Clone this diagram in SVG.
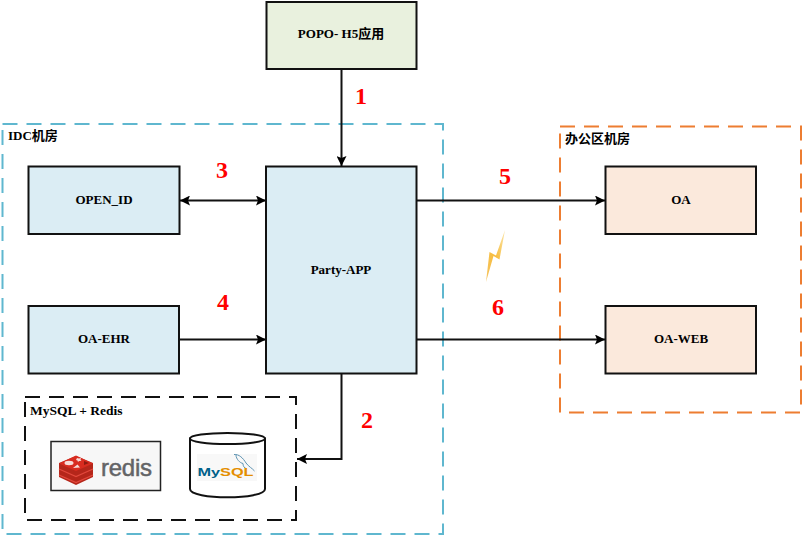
<svg xmlns="http://www.w3.org/2000/svg" width="803" height="536" viewBox="0 0 803 536">
<style>
text{font-family:"Liberation Serif","Noto Sans CJK SC",serif;font-weight:bold;font-size:13px;fill:#000}
.lb{text-anchor:middle}
.num{font-size:24px;fill:#f00;text-anchor:middle}
.box{stroke:#111;stroke-width:2}
.blue{fill:#dbedf4}.peach{fill:#fbe9dc}.green{fill:#e9f1de}
.con{fill:none;stroke:#111;stroke-width:2}
</style>
<defs>
<marker id="a" markerUnits="userSpaceOnUse" markerWidth="11" markerHeight="10" refX="10" refY="5" orient="auto-start-reverse"><path d="M0 0L10 5L0 10L2 5Z" fill="#000"/></marker>
<linearGradient id="bolt" x1="1" y1="0" x2="0" y2="1"><stop offset="0" stop-color="#fbe6ac"/><stop offset=".5" stop-color="#f7bd3e"/><stop offset="1" stop-color="#f5c462"/></linearGradient>
</defs>
<rect width="803" height="536" fill="#fff"/>
<g id="zone-idc"><rect x="2.500" y="124" width="440.500" height="410" fill="none" stroke="#5fb7cf" stroke-width="2" stroke-dasharray="15 9"/><text x="8" y="140">IDC机房</text></g>
<g id="zone-office"><rect x="560" y="126.500" width="241" height="286" fill="none" stroke="#ed7d31" stroke-width="2" stroke-dasharray="15 9"/><text x="565" y="143">办公区机房</text></g>
<g id="zone-db"><rect x="25" y="397" width="271" height="123" fill="none" stroke="#111" stroke-width="2" stroke-dasharray="15 9"/><text x="30" y="415" style="font-size:13.500px">MySQL + Redis</text></g>
<g id="connectors">
<path class="con" d="M341.500 69V166" marker-end="url(#a)"/>
<path class="con" d="M180 200.500H266" marker-start="url(#a)" marker-end="url(#a)"/>
<path class="con" d="M179 339.500H266" marker-end="url(#a)"/>
<path class="con" d="M341.500 374V459H297" marker-end="url(#a)"/>
<path class="con" d="M417 200.500H605" marker-end="url(#a)"/>
<path class="con" d="M417 339.500H605" marker-end="url(#a)"/>
</g>
<g id="node-popo"><rect class="box green" x="266.500" y="2" width="150" height="67"/><text class="lb" x="341" y="38">POPO- H5应用</text></g>
<g id="node-party"><rect class="box blue" x="266" y="166.500" width="150.500" height="207"/><text class="lb" x="341" y="274">Party-APP</text></g>
<g id="node-open"><rect class="box blue" x="28.500" y="166.500" width="151" height="67.500"/><text class="lb" x="104" y="204">OPEN_ID</text></g>
<g id="node-ehr"><rect class="box blue" x="28.500" y="306" width="150.500" height="67.500"/><text class="lb" x="104" y="343">OA-EHR</text></g>
<g id="node-oa"><rect class="box peach" x="605.500" y="166.500" width="150.500" height="67.500"/><text class="lb" x="681" y="204">OA</text></g>
<g id="node-oaweb"><rect class="box peach" x="605.500" y="306" width="150.500" height="67.500"/><text class="lb" x="681" y="343">OA-WEB</text></g>
<g id="node-redis">
<rect x="51" y="441.500" width="109.500" height="49" fill="#f7f7f7" stroke="#222" stroke-width="1.500"/>
<path d="M59 463V477L76 485L93 477V463L76 456Z" fill="#b5261a"/>
<path d="M59 463.500L76 455.500L93 463.500L76 471Z" fill="#d82c20"/>
<path d="M59 469L76 476.500L93 469M59 475L76 482.500L93 475" fill="none" stroke="#e2483c" stroke-width="1.200"/>
<ellipse cx="69" cy="463" rx="4.500" ry="2.200" fill="#f6dcd8"/><path d="M77 458l2 .5l2-.5l-.5 2l1 1l-2.500 0l-1 1l-.5-1.500l-1.500-.5Z" fill="#f6dcd8"/><path d="M73 468l4.500-3.500l2.500 3Z" fill="#f6dcd8"/><path d="M84 461l5 2l-5 2Z" fill="#8f1a10"/>
<text x="101" y="476" style="font-family:'Liberation Sans',sans-serif;font-weight:normal;font-size:24px;fill:#636466;stroke:#636466;stroke-width:.5" textLength="51">redis</text>
</g>
<g id="node-mysql">
<path d="M190 438.500V489C190 500 265 500 265 489V438.500Z" fill="#fff" stroke="#111" stroke-width="2"/>
<ellipse cx="227.500" cy="438.500" rx="37.500" ry="5.500" fill="#fff" stroke="#111" stroke-width="2"/>
<rect x="197" y="454" width="60" height="27" fill="#f8f8f8"/>
<path d="M234 454.500C239 454 243 458 246 463C249 467 252 468 254.500 471M236 455C236 459 240 463 243 463.500C243 466 244 468 247 469" fill="none" stroke="#5d93b2" stroke-width="1"/>
<text transform="translate(197.500 476) scale(1.480 1)" style="font-family:'Liberation Sans',sans-serif;font-size:11px;fill:#00618a">My<tspan style="fill:#e48e00">SQL</tspan></text>
</g>
<path id="lightning" d="M505 230L499.500 259.500L493.500 256L486 282L489.500 252L496 255.500Z" fill="url(#bolt)"/>
<g id="labels">
<text class="num" x="361" y="104">1</text>
<text class="num" x="367" y="428">2</text>
<text class="num" x="222" y="178">3</text>
<text class="num" x="223" y="310">4</text>
<text class="num" x="505" y="184">5</text>
<text class="num" x="498" y="315">6</text>
</g>
</svg>
